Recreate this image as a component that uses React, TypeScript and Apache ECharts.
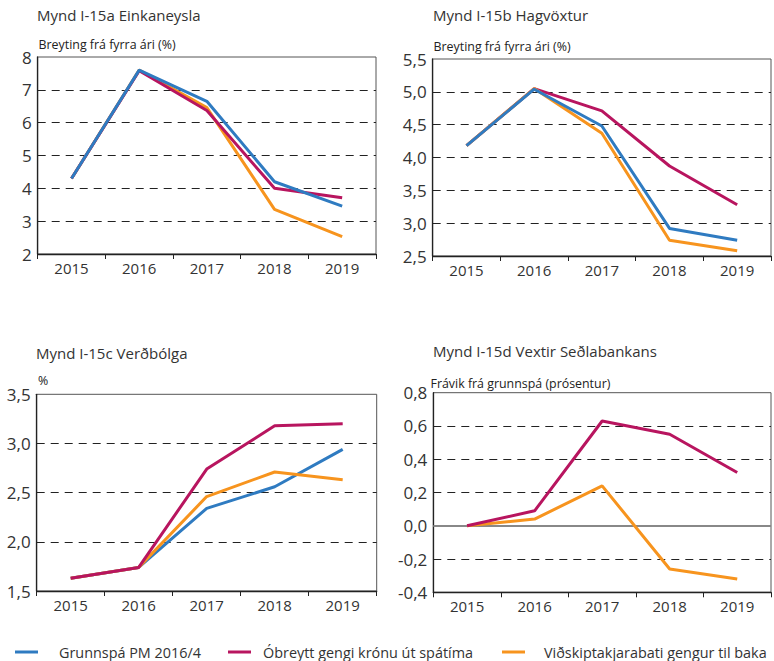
import React, { useEffect, useRef } from "react";
import * as echarts from "echarts";

const years = ["2015", "2016", "2017", "2018", "2019"];
const seriesNames = [
  "Grunnspá PM 2016/4",
  "Óbreytt gengi krónu út spátíma",
  "Viðskiptakjarabati gengur til baka",
];

// Mynd I-15a Einkaneysla
const aBlue = [4.3, 7.6, 6.65, 4.2, 3.46];
const aMagenta = [4.3, 7.58, 6.37, 4.0, 3.71];
const aOrange = [4.3, 7.6, 6.46, 3.36, 2.53];

// Mynd I-15b Hagvöxtur
const bBlue = [4.18, 5.04, 4.48, 2.92, 2.74];
const bMagenta = [4.18, 5.05, 4.71, 3.87, 3.28];
const bOrange = [4.18, 5.05, 4.37, 2.74, 2.58];

// Mynd I-15c Verðbólga
const cBlue = [1.63, 1.74, 2.34, 2.56, 2.94];
const cMagenta = [1.63, 1.74, 2.74, 3.18, 3.2];
const cOrange = [1.63, 1.74, 2.46, 2.71, 2.63];

// Mynd I-15d Vextir Seðlabankans
const dMagenta = [0, 0.09, 0.63, 0.55, 0.32];
const dOrange = [0, 0.04, 0.24, -0.26, -0.32];

const titles = [
  "Mynd I-15a Einkaneysla",
  "Mynd I-15b Hagvöxtur",
  "Mynd I-15c Verðbólga",
  "Mynd I-15d Vextir Seðlabankans",
];
const subtitles = [
  "Breyting frá fyrra ári (%)",
  "Breyting frá fyrra ári (%)",
  "%",
  "Frávik frá grunnspá (prósentur)",
];

const BLUE = "#2f7bc1";
const MAGENTA = "#b8155f";
const ORANGE = "#f7941e";
const FONT = "Open Sans";

export default function App() {
  const ref = useRef<HTMLDivElement>(null);
  useEffect(() => {
    if (!ref.current) return;
    const chart = echarts.init(ref.current, null, { renderer: "svg" });

    const grids = [
      { left: 37.7, top: 57, width: 338.3, height: 197 },
      { left: 432.7, top: 59, width: 338.3, height: 197 },
      { left: 36.7, top: 394.3, width: 340, height: 196.7 },
      { left: 433.3, top: 392.7, width: 337.7, height: 199.6 },
    ];
    const yRanges = [
      { min: 2, max: 8, interval: 1, dec: 0 },
      { min: 2.5, max: 5.5, interval: 0.5, dec: 1 },
      { min: 1.5, max: 3.5, interval: 0.5, dec: 1 },
      { min: -0.4, max: 0.8, interval: 0.2, dec: 1 },
    ];

    const fmt = (dec: number) => (v: number) => {
      const x = Math.abs(v) < 1e-9 ? 0 : v;
      return x.toFixed(dec).replace(".", ",");
    };

    const line = (name: string, color: string, idx: number, data: number[], z: number) => ({
      name,
      type: "line",
      xAxisIndex: idx,
      yAxisIndex: idx,
      data,
      symbol: "none",
      z,
      lineStyle: { color, width: 3 },
      itemStyle: { color },
    });

    const titlePos = [
      { x: 37, y: 15 },
      { x: 433, y: 15 },
      { x: 36, y: 352.7 },
      { x: 433, y: 350.7 },
    ];
    const subPos = [
      { x: 38.5, y: 44.5 },
      { x: 433.5, y: 46.5 },
      { x: 38, y: 380.7 },
      { x: 430.5, y: 383.5 },
    ];

    const option: any = {
      animation: false,
      title: [
        ...titles.map((t, i) => ({
          text: t,
          left: titlePos[i].x,
          top: titlePos[i].y - 10,
          padding: 0,
          textStyle: { fontFamily: FONT, fontSize: 15, fontWeight: "normal", color: "#333", lineHeight: 20 },
        })),
        ...subtitles.map((t, i) => ({
          text: t,
          left: subPos[i].x,
          top: subPos[i].y - 8,
          padding: 0,
          textStyle: { fontFamily: FONT, fontSize: 12.4, fontWeight: "normal", color: "#222", lineHeight: 16 },
        })),
      ],
      legend: [
        { name: seriesNames[0], x: 15, pad: 16 },
        { name: seriesNames[1], x: 228, pad: 7 },
        { name: seriesNames[2], x: 502, pad: 14 },
      ].map((l) => ({
        data: [l.name],
        left: l.x,
        top: 642,
        padding: 0,
        icon: "rect",
        itemWidth: 23,
        itemHeight: 3,
        textStyle: {
          fontFamily: FONT,
          fontSize: 14.4,
          color: "#333",
          padding: [0, 0, 0, l.pad],
          lineHeight: 20,
        },
        selectedMode: false,
      })),
      grid: grids.map((g) => ({
        ...g,
        show: true,
        borderColor: "#555",
        borderWidth: 1,
        containLabel: false,
      })),
      xAxis: grids.map((_, i) => ({
        type: "category",
        gridIndex: i,
        data: years,
        boundaryGap: true,
        axisLine: { show: true, onZero: false, lineStyle: { color: "#222", width: 1.3 } },
        axisTick: { show: true, length: 5, lineStyle: { color: "#222" } },
        axisLabel: { fontFamily: FONT, fontSize: 15, color: "#333", margin: 6 },
        splitLine: { show: false },
      })),
      yAxis: yRanges.map((r, i) => ({
        type: "value",
        gridIndex: i,
        min: r.min,
        max: r.max,
        interval: r.interval,
        axisLine: { show: true, lineStyle: { color: "#222", width: 1.3 } },
        axisTick: { show: false },
        axisLabel: {
          fontFamily: FONT,
          fontSize: 17,
          color: "#333",
          margin: 6,
          formatter: fmt(r.dec),
        },
        splitLine: {
          show: true,
          showMinLine: false,
          showMaxLine: false,
          lineStyle: { color: "#222", type: [8, 6], width: 1 },
        },
      })),
      series: [
        line(seriesNames[2], ORANGE, 0, aOrange, 2),
        line(seriesNames[1], MAGENTA, 0, aMagenta, 3),
        line(seriesNames[0], BLUE, 0, aBlue, 4),
        line(seriesNames[1], MAGENTA, 1, bMagenta, 2),
        line(seriesNames[2], ORANGE, 1, bOrange, 3),
        line(seriesNames[0], BLUE, 1, bBlue, 4),
        line(seriesNames[0], BLUE, 2, cBlue, 2),
        line(seriesNames[2], ORANGE, 2, cOrange, 3),
        line(seriesNames[1], MAGENTA, 2, cMagenta, 4),
        {
          ...line(seriesNames[2], ORANGE, 3, dOrange, 3),
          markLine: {
            silent: true,
            symbol: "none",
            label: { show: false },
            lineStyle: { color: "#888", type: "solid", width: 2 },
            data: [{ yAxis: 0 }],
            z: 1,
          },
        },
        line(seriesNames[1], MAGENTA, 3, dMagenta, 4),
      ],
    };
    chart.setOption(option);
    return () => chart.dispose();
  }, []);
  return (
    <div
      ref={ref}
      style={{ position: "absolute", left: 0, top: 0, width: 774, height: 661, background: "#fff" }}
    />
  );
}
